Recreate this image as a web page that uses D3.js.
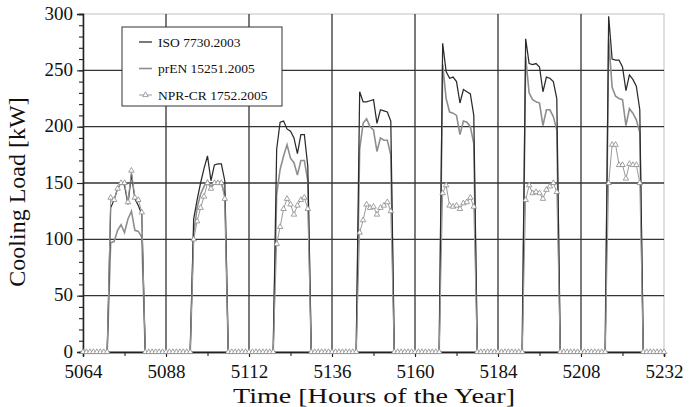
<!DOCTYPE html>
<html>
<head>
<meta charset="utf-8">
<script src="https://cdn.jsdelivr.net/npm/d3@7"></script>
<style>
  body { margin: 0; background: #fff; }
  text { font-family: "Liberation Serif", "Times New Roman", serif; }
</style>
</head>
<body>
<div id="chart"></div>
<script>
var width = 695, height = 407;
var margin = {top: 14, right: 31, bottom: 55, left: 83};

// hours of the year shown, and the first occupied hour of each day
var hourRange = [5064, 5232];
var dayStarts = [5072, 5096, 5120, 5144, 5168, 5192, 5216];
var xTicks = [5064, 5088, 5112, 5136, 5160, 5184, 5208, 5232];
var yTicks = [0, 50, 100, 150, 200, 250, 300];

// cooling load [kW] for the ten occupied hours of each day, zero otherwise
var isoLoad = [
  [128, 135, 145, 150, 148, 131, 158, 136, 130, 122],
  [118, 135, 150, 163, 174, 152, 166, 167, 167, 152],
  [180, 204, 205, 198, 196, 190, 176, 193, 193, 165],
  [231, 222, 222, 223, 224, 203, 215, 214, 213, 205],
  [274, 249, 243, 244, 240, 221, 233, 231, 229, 210],
  [278, 256, 255, 256, 253, 231, 244, 243, 240, 225],
  [298, 260, 259, 259, 253, 232, 246, 242, 236, 215]
];
var prenLoad = [
  [97, 98, 108, 113, 106, 118, 125, 108, 107, 102],
  [105, 128, 140, 147, 152, 146, 150, 151, 150, 140],
  [140, 162, 174, 184, 172, 168, 157, 170, 170, 152],
  [180, 203, 207, 200, 197, 178, 190, 188, 188, 175],
  [255, 225, 213, 212, 210, 193, 205, 204, 200, 185],
  [262, 230, 224, 222, 221, 201, 215, 215, 209, 197],
  [278, 235, 227, 225, 224, 201, 216, 212, 206, 195]
];
var nprLoad = [
  [137, 135, 145, 150, 150, 133, 161, 137, 135, 124],
  [100, 116, 128, 138, 150, 145, 150, 150, 150, 136],
  [96, 111, 127, 136, 131, 122, 130, 135, 137, 127],
  [106, 117, 131, 128, 129, 122, 128, 130, 133, 125],
  [141, 148, 130, 129, 130, 127, 132, 133, 137, 129],
  [135, 148, 141, 142, 141, 136, 144, 147, 150, 142],
  [150, 184, 184, 166, 166, 154, 167, 166, 166, 150]
];
var seriesNames = ["ISO 7730.2003", "prEN 15251.2005", "NPR-CR 1752.2005"];

var hours = d3.range(hourRange[0], hourRange[1] + 1);
function expand(days) {
  return hours.map(function(h) {
    var d = dayStarts.findIndex(function(s) { return h >= s && h < s + days[0].length; });
    return {h: h, v: d < 0 ? 0 : days[d][h - dayStarts[d]]};
  });
}

const SVG = d3.select("#chart")
              .append("svg")
              .attr("width", width)
              .attr("height", height);

const x = d3.scaleLinear().domain(hourRange).range([margin.left, width - margin.right]);
const y = d3.scaleLinear().domain([0, 300]).range([height - margin.bottom, margin.top]);

// plot frame (light) and grid (dark)
SVG.append("rect")
   .attr("x", x(hourRange[0])).attr("y", y(300))
   .attr("width", x(hourRange[1]) - x(hourRange[0]))
   .attr("height", y(0) - y(300))
   .attr("fill", "none").attr("stroke", "#cfcfcf").attr("stroke-width", 1.3);

SVG.selectAll(".hgrid")
   .data(yTicks.filter(function(d) { return d > 0 && d < 300; }))
   .enter().append("line")
   .attr("x1", x(hourRange[0])).attr("x2", x(hourRange[1]))
   .attr("y1", function(d) { return y(d); }).attr("y2", function(d) { return y(d); })
   .attr("stroke", "#333").attr("stroke-width", 1.3);

SVG.selectAll(".vgrid")
   .data(xTicks.filter(function(d) { return d > hourRange[0] && d < hourRange[1]; }))
   .enter().append("line")
   .attr("x1", function(d) { return x(d); }).attr("x2", function(d) { return x(d); })
   .attr("y1", y(0)).attr("y2", y(300))
   .attr("stroke", "#333").attr("stroke-width", 1.3);

// axes
const yMinor = SVG.append("g").attr("transform", `translate(${margin.left},0)`)
   .call(d3.axisLeft(y).tickValues(d3.range(0, 301, 10)).tickSize(4).tickFormat(""));
const yAxis = SVG.append("g").attr("transform", `translate(${margin.left},0)`)
   .call(d3.axisLeft(y).tickValues(yTicks).tickSize(6).tickPadding(4));
const xMinor = SVG.append("g").attr("transform", `translate(0,${y(0)})`)
   .call(d3.axisBottom(x).tickValues(d3.range(hourRange[0], hourRange[1] + 1, 12)).tickSize(4).tickFormat(""));
const xAxis = SVG.append("g").attr("transform", `translate(0,${y(0)})`)
   .call(d3.axisBottom(x).tickValues(xTicks).tickSize(5).tickPadding(8).tickFormat(d3.format("d")));

[yMinor, yAxis, xMinor, xAxis].forEach(function(g) {
  g.selectAll("path").attr("stroke", "#222").attr("stroke-width", 1.3);
  g.selectAll("line").attr("stroke", "#222").attr("stroke-width", 1.1);
  g.selectAll("text").attr("fill", "#111").style("font-size", "19px")
   .style("font-family", '"Liberation Serif", serif');
});
yAxis.selectAll("text").attr("dy", "0.28em");

// series
const line = d3.line().x(function(d) { return x(d.h); }).y(function(d) { return y(d.v); });
const triangle = d3.symbol().type(d3.symbolTriangle).size(13);

SVG.append("path").datum(expand(prenLoad))
   .attr("d", line).attr("fill", "none").attr("stroke", "#8e8e8e").attr("stroke-width", 1.6);
SVG.append("path").datum(expand(isoLoad))
   .attr("d", line).attr("fill", "none").attr("stroke", "#2b2b2b").attr("stroke-width", 1.25);

const npr = expand(nprLoad);
SVG.append("path").datum(npr)
   .attr("d", line).attr("fill", "none").attr("stroke", "#9a9a9a").attr("stroke-width", 1);
SVG.selectAll(".marker")
   .data(npr)
   .enter().append("path")
   .attr("d", triangle)
   .attr("transform", function(d) { return `translate(${x(d.h)},${y(d.v)})`; })
   .attr("fill", "#fff").attr("stroke", "#8a8a8a").attr("stroke-width", 0.8);

// legend
const LEGEND = SVG.append("g");
LEGEND.append("rect")
      .attr("x", 122).attr("y", 27).attr("width", 160).attr("height", 79)
      .attr("fill", "#fff").attr("stroke", "#333").attr("stroke-width", 1);
const legendStyle = [
  {stroke: "#2b2b2b", width: 1.25, marker: false},
  {stroke: "#8e8e8e", width: 1.6, marker: false},
  {stroke: "#9a9a9a", width: 1, marker: true}
];
seriesNames.forEach(function(name, i) {
  var ly = 42 + i * 26.5;
  LEGEND.append("line")
        .attr("x1", 139).attr("x2", 152).attr("y1", ly).attr("y2", ly)
        .attr("stroke", legendStyle[i].stroke).attr("stroke-width", legendStyle[i].width);
  if (legendStyle[i].marker) {
    LEGEND.append("path").attr("d", triangle)
          .attr("transform", `translate(145.5,${ly})`)
          .attr("fill", "#fff").attr("stroke", "#8a8a8a").attr("stroke-width", 0.8);
  }
  LEGEND.append("text")
        .attr("x", 158).attr("y", ly + 4.5)
        .attr("fill", "#111")
        .style("font-size", "13.5px")
        .text(name);
});

// axis titles
SVG.append("text")
   .attr("transform", "translate(25,192) rotate(-90)")
   .attr("text-anchor", "middle")
   .attr("fill", "#111")
   .style("font-size", "24px")
   .text("Cooling Load [kW]");
SVG.append("text")
   .attr("x", 374)
   .attr("y", 403)
   .attr("text-anchor", "middle")
   .attr("textLength", 282)
   .attr("lengthAdjust", "spacingAndGlyphs")
   .attr("fill", "#111")
   .style("font-size", "22px")
   .text("Time [Hours of the Year]");
</script>
</body>
</html>
